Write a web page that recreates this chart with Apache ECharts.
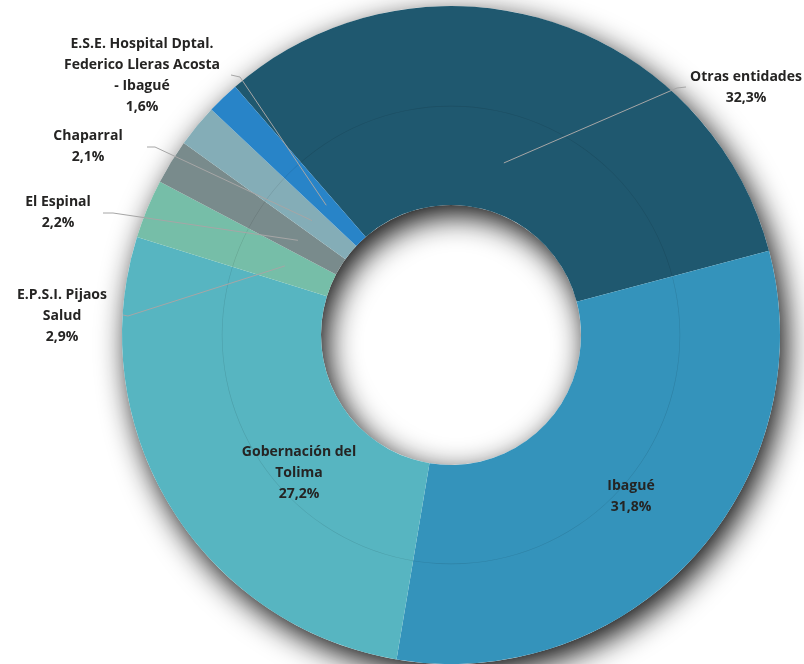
<!DOCTYPE html>
<html>
<head>
<meta charset="utf-8">
<script src="https://cdn.jsdelivr.net/npm/echarts@6/dist/echarts.min.js"></script>
<style>
  html, body { margin: 0; background: #fff; }
  #chart { width: 804px; height: 664px; }
</style>
</head>
<body>
<div id="chart"></div>
<script>
const entities = [
  "Otras entidades",
  "Ibagué",
  "Gobernación del Tolima",
  "E.P.S.I. Pijaos Salud",
  "El Espinal",
  "Chaparral",
  "E.S.E. Hospital Dptal. Federico Lleras Acosta - Ibagué",
];
const labelNames = [
  "Otras entidades",
  "Ibagué",
  "Gobernación del\nTolima",
  "E.P.S.I. Pijaos\nSalud",
  "El Espinal",
  "Chaparral",
  "E.S.E. Hospital Dptal.\nFederico Lleras Acosta\n- Ibagué",
];
const shares = [32.3, 31.8, 27.2, 2.9, 2.2, 2.1, 1.6];
const sliceColors = ["#1f586f", "#3493bb", "#57b5c1", "#76bea8", "#798b8c", "#84adb7", "#2884c8"];

// where each label sits, and the bend of its leader line (null = no line)
const labelSpots = [
  { x: 746, y: 88, elbow: [677, 88], end: [686, 87] },
  { x: 631, y: 497, elbow: null },
  { x: 299, y: 473, elbow: null },
  { x: 62, y: 316, elbow: [128, 316], end: [123, 315] },
  { x: 58, y: 213, elbow: [113, 213], end: [103, 213] },
  { x: 88, y: 147, elbow: [155, 147], end: [147, 147] },
  { x: 142, y: 76, elbow: [240, 77], end: [231, 75] },
];

const CENTER = [451, 335];
const START = 131;

const chart = echarts.init(document.getElementById("chart"));

const pieData = entities.map((name, i) => ({
  name: name,
  value: shares[i],
  itemStyle: { color: sliceColors[i] },
}));

const labelData = entities.map((name, i) => ({
  name: name,
  value: shares[i],
  labelLine: { show: labelSpots[i].elbow != null },
}));

const option = {
  backgroundColor: "#fff",
  animation: false,
  series: [
    {
      // ring behind the slices, only to cast the drop shadow
      type: "pie",
      silent: true,
      z: 1,
      center: CENTER,
      radius: [130, 329],
      label: { show: false },
      labelLine: { show: false },
      itemStyle: {
        color: "#ffffff",
        shadowBlur: 30,
        shadowOffsetX: 6,
        shadowOffsetY: 10,
        shadowColor: "rgba(0,0,0,0.95)",
      },
      data: [{ value: 1, name: "" }],
    },
    {
      type: "pie",
      z: 2,
      silent: true,
      center: CENTER,
      radius: [130, 329],
      startAngle: START,
      label: { show: false },
      labelLine: { show: false },
      itemStyle: { borderWidth: 0 },
      data: pieData,
    },
    {
      // faint guide circle inside the ring
      type: "pie",
      z: 3,
      silent: true,
      center: CENTER,
      radius: [228.6, 229.2],
      label: { show: false },
      labelLine: { show: false },
      itemStyle: { color: "rgba(0,0,0,0.12)" },
      data: [{ value: 1, name: "" }],
    },
    {
      // transparent twin that carries the labels
      type: "pie",
      z: 4,
      silent: true,
      center: CENTER,
      radius: [130, 180],
      startAngle: START,
      avoidLabelOverlap: false,
      itemStyle: { color: "rgba(0,0,0,0)" },
      label: {
        show: true,
        position: "outside",
        color: "#252423",
        fontFamily: "Open Sans",
        fontWeight: "bold",
        fontSize: 14,
        lineHeight: 21,
        align: "center",
        formatter: (p) =>
          labelNames[p.dataIndex] + "\n" + p.value.toFixed(1).replace(".", ",") + "%",
      },
      labelLine: {
        show: true,
        length: 20,
        length2: 10,
        lineStyle: { color: "#a6a6a6", width: 1 },
      },
      labelLayout: (params) => {
        const spot = labelSpots[params.dataIndex];
        const out = {
          x: spot.x,
          y: spot.y,
          align: "center",
          verticalAlign: "middle",
        };
        if (spot.elbow && params.labelLinePoints) {
          out.labelLinePoints = [params.labelLinePoints[0], spot.elbow, spot.end];
        }
        return out;
      },
      data: labelData,
    },
  ],
};

chart.setOption(option);
</script>
</body>
</html>
